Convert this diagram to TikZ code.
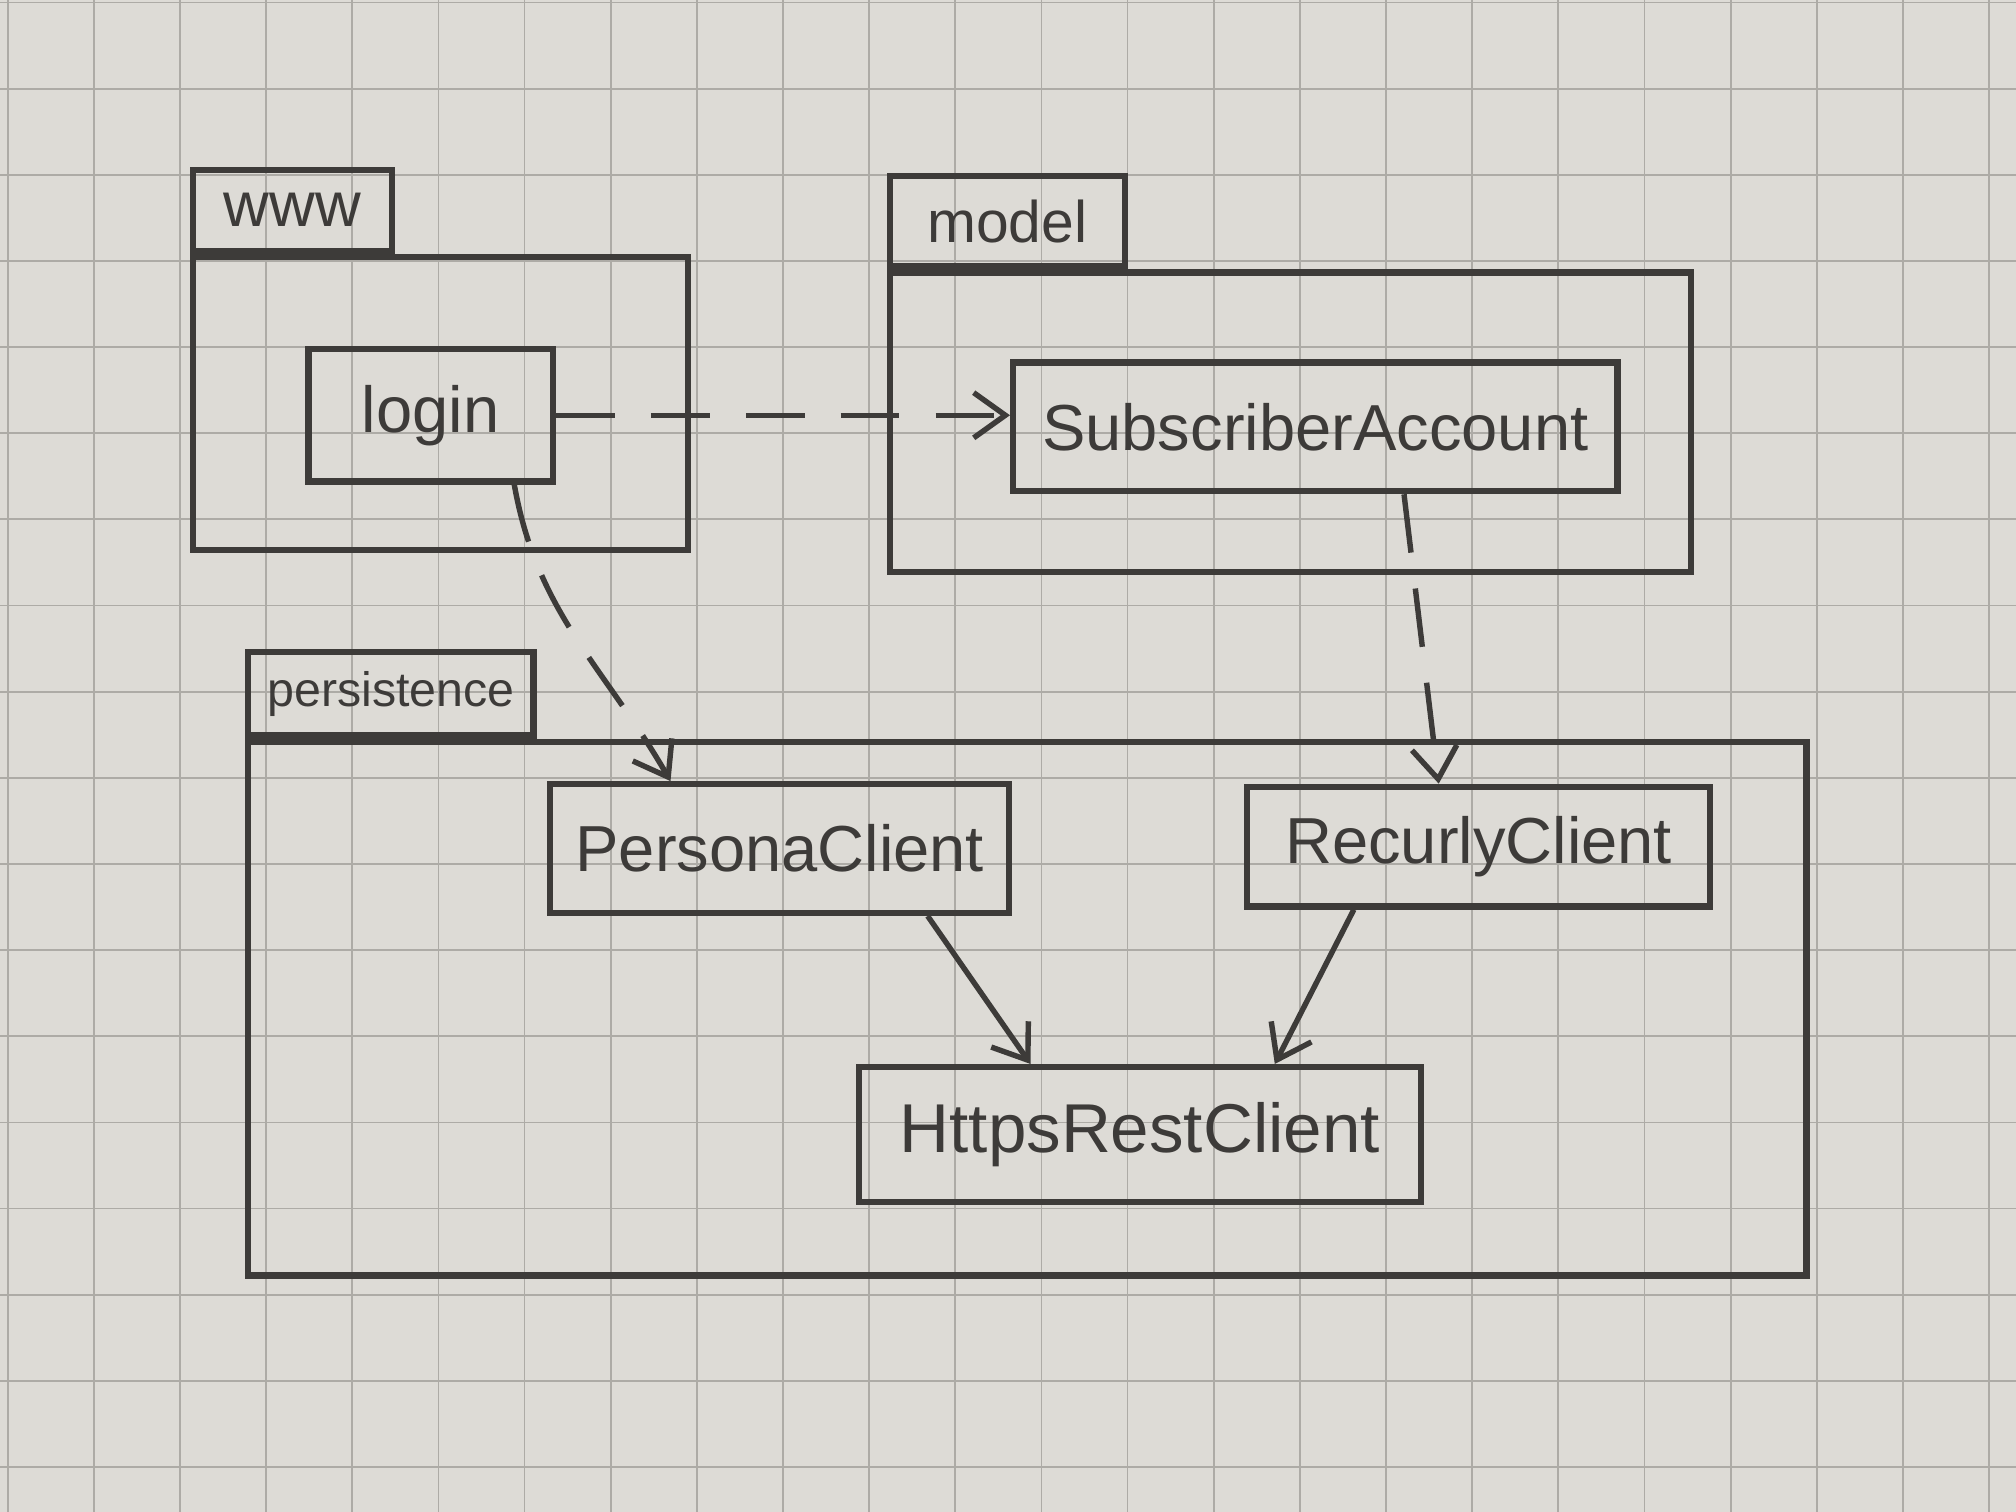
\documentclass[tikz,border=0pt]{standalone}
\usepackage{fontspec}
\setmainfont{Liberation Sans}
\usetikzlibrary{arrows.meta,positioning,calc}
\definecolor{paper}{HTML}{DDDBD6}
\definecolor{gridcol}{HTML}{ADABA6}
\definecolor{ink}{HTML}{3D3B39}

\begin{document}
\begin{tikzpicture}[
    pkg/.style={draw=ink,line width=1.4pt,inner sep=0pt},
    pkgtab/.style={draw=ink,line width=1.4pt,anchor=south west,inner sep=0pt,text=ink,font=\fontsize{14}{16}\selectfont},
    cls/.style={draw=ink,line width=1.4pt,inner sep=0pt,text=ink,font=\fontsize{14.4}{17}\selectfont},
    dep/.style={draw=ink,line width=1.2pt,dash pattern=on 13pt off 8pt,-{Straight Barb[length=7pt,width=10pt]}},
    uses/.style={draw=ink,line width=1.2pt,-{Straight Barb[length=7pt,width=10pt]}}
  ]
    % squared paper
    \fill[paper] (0,0) rectangle (15.68,11.76);
    \useasboundingbox (0,0) rectangle (15.68,11.76);
    \begin{scope}
      \clip (0,0) rectangle (15.68,11.76);
      \draw[gridcol,line width=0.4pt,shift={(0.06,0.35)},step=0.67] (-0.67,-0.67) grid (16.5,12.5);
    \end{scope}

    % packages
    \node[pkg,minimum width=3.85cm,minimum height=2.28cm] (www) at (3.425,8.62) {};
    \node[pkgtab,minimum width=1.55cm,minimum height=0.63cm] (wwwtab) at (www.north west) {www};

    \node[pkg,minimum width=6.23cm,minimum height=2.33cm] (model) at (10.035,8.475) {};
    \node[pkgtab,minimum width=1.83cm,minimum height=0.70cm,font=\fontsize{13}{15}\selectfont] (modeltab) at (model.north west) {model};

    \node[pkg,minimum width=12.12cm,minimum height=4.15cm] (persist) at (7.99,3.915) {};
    \node[pkgtab,minimum width=2.22cm,minimum height=0.65cm,font=\fontsize{10.7}{13}\selectfont] (persisttab) at (persist.north west) {persistence};

    % classes
    \node[cls,minimum width=1.90cm,minimum height=1.03cm] (login) at (3.35,8.53) {login};
    \node[cls,minimum width=4.70cm,minimum height=1.00cm] (subacc) at (10.23,8.44) {SubscriberAccount};
    \node[cls,minimum width=3.57cm,minimum height=1.00cm] (persona) at (6.065,5.16) {PersonaClient};
    \node[cls,minimum width=3.60cm,minimum height=0.93cm] (recurly) at (11.50,5.175) {RecurlyClient};
    \node[cls,minimum width=4.37cm,minimum height=1.05cm,font=\fontsize{15.3}{18}\selectfont] (https) at (8.865,2.935) {HttpsRestClient};

    % dependencies
    \draw[dep] (login.east) -- (login.east -| subacc.west);
    \draw[dep] ([xshift=0.65cm]login.south) to[out=-80,in=120] ([xshift=-0.85cm]persona.north);
    \draw[dep] ([xshift=0.69cm]subacc.south) -- ([xshift=-0.31cm]recurly.north);
    \draw[uses] ([xshift=1.15cm]persona.south) -- ([xshift=-0.85cm]https.north);
    \draw[uses] ([xshift=-0.97cm]recurly.south) -- ([xshift=1.05cm]https.north);
\end{tikzpicture}
\end{document}
